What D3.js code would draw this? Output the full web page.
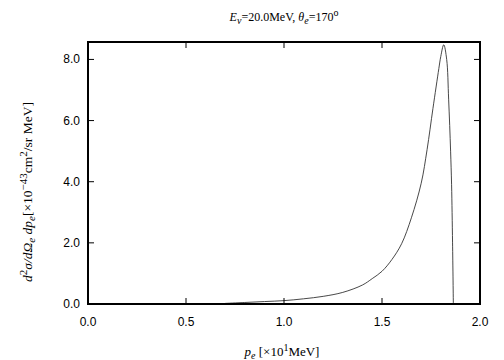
<!DOCTYPE html>
<html>
<head>
<meta charset="utf-8">
<script src="https://cdn.jsdelivr.net/npm/d3@7"></script>
<style>
  body { margin: 0; background: #fff; }
  svg text { fill: #000; }
</style>
</head>
<body>
<div id="chart"></div>
<script>
// momentum p_e in units of 10 MeV
const pe = [0.70, 0.80, 0.90, 1.00, 1.10, 1.20, 1.30, 1.40, 1.45, 1.50, 1.55, 1.60, 1.65, 1.70, 1.73, 1.76, 1.79, 1.80, 1.815, 1.83, 1.84, 1.85, 1.855, 1.86, 1.864];
// cross section in units of 1e-43 cm^2/sr MeV
const sigma = [0.02, 0.05, 0.08, 0.11, 0.17, 0.25, 0.38, 0.62, 0.83, 1.07, 1.45, 1.97, 2.82, 3.95, 5.05, 6.40, 7.70, 8.10, 8.48, 8.0, 6.7, 5.0, 3.9, 2.0, 0.0];
const xTicks = [0.0, 0.5, 1.0, 1.5, 2.0];
const yTicks = [0.0, 2.0, 4.0, 6.0, 8.0];

const W = 504, H = 360;
const M = { top: 42, right: 24, bottom: 56, left: 88 };

const svg = d3.select("#chart").append("svg")
  .attr("width", W).attr("height", H);

const x = d3.scaleLinear().domain([0, 2]).range([M.left, W - M.right]);
const y = d3.scaleLinear().domain([0, 8.57]).range([H - M.bottom, M.top]);

// curve
const data = pe.map((p, i) => [p, sigma[i]]);
svg.append("path")
  .datum(data)
  .attr("fill", "none")
  .attr("stroke", "#333")
  .attr("stroke-width", 0.9)
  .attr("d", d3.line().x(d => x(d[0])).y(d => y(d[1])).curve(d3.curveCatmullRom.alpha(0.5)));

// ticks, inward on all four sides
const tickLen = 6;
const g = svg.append("g").attr("stroke", "#000").attr("stroke-width", 1);
xTicks.slice(1, -1).forEach(t => {
  g.append("line").attr("x1", x(t)).attr("x2", x(t)).attr("y1", y(0)).attr("y2", y(0) - tickLen);
  g.append("line").attr("x1", x(t)).attr("x2", x(t)).attr("y1", M.top).attr("y2", M.top + tickLen);
});
yTicks.slice(1).forEach(t => {
  g.append("line").attr("x1", M.left).attr("x2", M.left + tickLen).attr("y1", y(t)).attr("y2", y(t));
  g.append("line").attr("x1", W - M.right).attr("x2", W - M.right - tickLen).attr("y1", y(t)).attr("y2", y(t));
});

// frame
svg.append("rect")
  .attr("x", M.left).attr("y", M.top)
  .attr("width", W - M.left - M.right).attr("height", H - M.top - M.bottom)
  .attr("fill", "none").attr("stroke", "#000").attr("stroke-width", 2);

// tick labels
const sans = "'Liberation Sans', Arial, sans-serif";
svg.append("g").selectAll("text").data(xTicks).enter().append("text")
  .attr("x", d => x(d)).attr("y", y(0) + 22)
  .attr("text-anchor", "middle")
  .style("font-family", sans).style("font-size", "12px")
  .text(d => d.toFixed(1));
svg.append("g").selectAll("text").data(yTicks).enter().append("text")
  .attr("x", M.left - 8).attr("y", d => y(d) + 4)
  .attr("text-anchor", "end")
  .style("font-family", sans).style("font-size", "12px")
  .text(d => d.toFixed(1));

// rich text helper: parts = [text, style]; i = italic, s = subscript, p = superscript
const serif = "'Liberation Serif', 'Times New Roman', serif";
function rich(sel, parts, small) {
  parts.forEach(([t, s]) => {
    const ts = sel.append("tspan").text(t);
    if (s.includes("i")) ts.style("font-style", "italic");
    if (s.includes("s")) ts.attr("baseline-shift", "-3").style("font-size", small);
    if (s.includes("p")) ts.attr("baseline-shift", "5").style("font-size", small);
  });
}

// title
const title = svg.append("text")
  .attr("x", 284).attr("y", 21)
  .attr("text-anchor", "middle")
  .style("font-family", serif).style("font-size", "12px");
rich(title, [["E", "i"], ["ν", "si"], ["=20.0MeV,  ", "u"], ["θ", "i"], ["e", "si"], ["=170", "u"], ["o", "p"]], "10px");

// x label
const xl = svg.append("text")
  .attr("x", 282).attr("y", 356)
  .attr("text-anchor", "middle")
  .style("font-family", serif).style("font-size", "13px");
rich(xl, [["p", "i"], ["e", "si"], [" [×10", "u"], ["1", "p"], ["MeV]", "u"]], "10px");

// y label
const yl = svg.append("text")
  .attr("transform", "translate(32,192) rotate(-90)")
  .attr("text-anchor", "middle")
  .style("font-family", serif).style("font-size", "13.5px");
rich(yl, [["d", "i"], ["2", "p"], ["σ/dΩ", "i"], ["e", "si"], [" dp", "i"], ["e", "si"], ["[×10", "u"], ["−43", "p"], ["cm", "u"], ["2", "p"], ["/sr MeV]", "u"]], "11px");
</script>
</body>
</html>
